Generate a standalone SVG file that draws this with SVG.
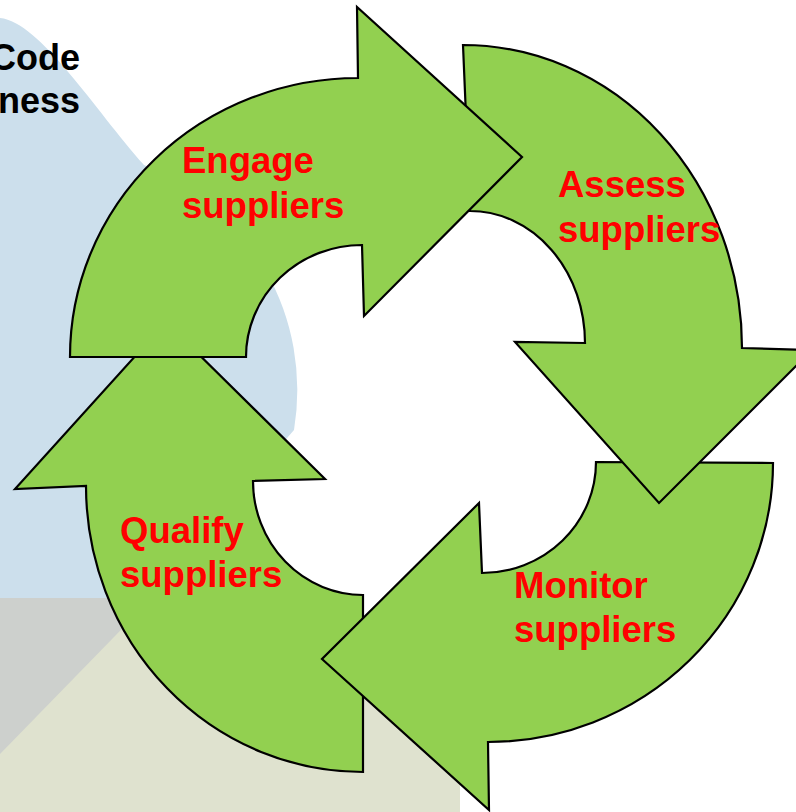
<svg xmlns="http://www.w3.org/2000/svg" width="796" height="812" viewBox="0 0 796 812">
<style>
.arrow{fill:#92D050;stroke:#000;stroke-width:2.2;stroke-linejoin:miter}
.lbl{font-family:"Liberation Sans",Arial,sans-serif;font-weight:bold;font-size:36.5px;fill:#FF0000}
.bgt{font-family:"Liberation Sans",Arial,sans-serif;font-weight:bold;font-size:36px;fill:#000;text-anchor:end}
</style>
<rect x="0" y="0" width="796" height="812" fill="#FFFFFF"/>
<g id="background">
<path d="M0,18 C40,22 95,110 144,165 A242,242 0 0 1 294,430 L250,481 L220,598 L0,598 Z" fill="#CCDFEC"/>
<path d="M0,598 L363,598 L363,650 L460,650 L460,812 L0,812 Z" fill="#DFE2CF"/>
<path d="M0,598 L152,598 L0,754 Z" fill="#CDD0CD"/>
<text class="bgt" x="80" y="70">Code</text>
<text class="bgt" x="80" y="113">ness</text>
</g>
<g id="connectors"></g>
<g id="qualify">
<path class="arrow" d="M363,772 A277,286 0 0 1 86,486 L15,489 L166,322 L325,479 L253,481 A110,114 0 0 0 363,595 Z"/>
<text class="lbl" x="120" y="543">Qualify</text>
<text class="lbl" x="120" y="587">suppliers</text>
</g>
<g id="monitor">
<path class="arrow" d="M596,462 L773,463 A285,279 0 0 1 488,742 L489,810 L322,659 L479,503 L482,573 A114,111 0 0 0 596,462 Z"/>
<text class="lbl" x="514" y="598">Monitor</text>
<text class="lbl" x="514" y="642">suppliers</text>
</g>
<g id="assess">
<path class="arrow" d="M463,45 A279,303 0 0 1 742,348 L812,350 L659,503 L515,342 L585,343 A115,132 0 0 0 470,211 Z"/>
<text class="lbl" x="558" y="197">Assess</text>
<text class="lbl" x="558" y="242">suppliers</text>
</g>
<g id="engage">
<path class="arrow" d="M70,357 L246,357 A116,112 0 0 1 362,245 L364,316 L522,157 L357,7 L358,78 A288,279 0 0 0 70,357 Z"/>
<text class="lbl" x="182" y="173">Engage</text>
<text class="lbl" x="182" y="218">suppliers</text>
</g>
</svg>
